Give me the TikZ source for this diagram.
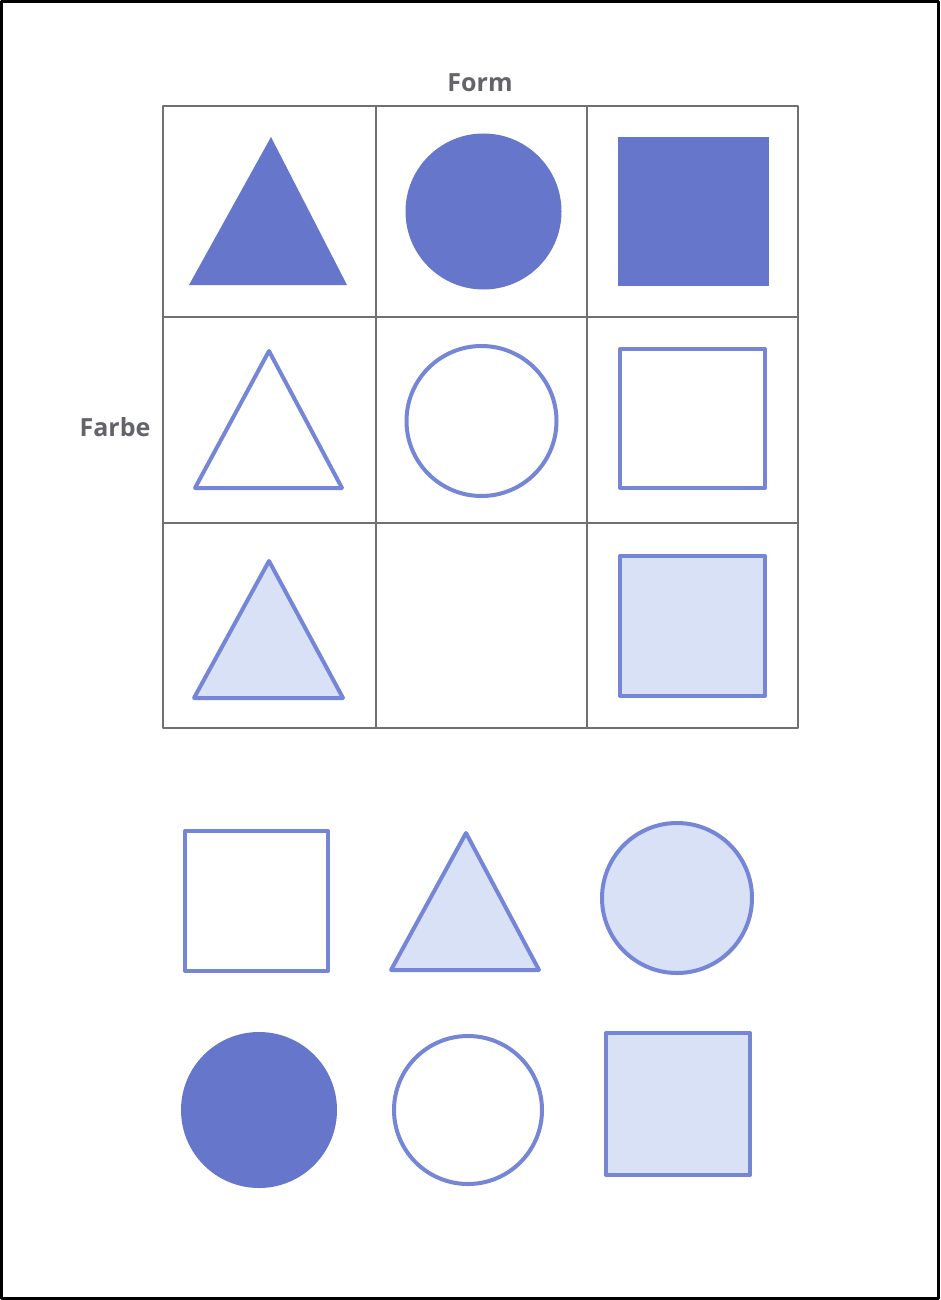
\documentclass[tikz,border=0pt]{standalone}
\usepackage{fontspec}
\setmainfont{Open Sans}
\usepackage{tikz}
\definecolor{shapeblue}{HTML}{6676CA}
\definecolor{lineblue}{HTML}{7586D6}
\definecolor{paleblue}{HTML}{D8E1F6}
\definecolor{gridgray}{HTML}{707070}
\definecolor{labelgray}{HTML}{62636B}

\begin{document}
\begin{tikzpicture}[x=1pt,y=-1pt,line join=round,
  full/.style={fill=shapeblue},
  hollow/.style={draw=lineblue,line width=4pt,fill=white},
  pale/.style={draw=lineblue,line width=4pt,fill=paleblue},
  axislabel/.style={font=\fontsize{25}{30}\selectfont\bfseries,text=labelgray,inner sep=0pt,anchor=base}]
  \fill[white] (0,0) rectangle (940,1300);
  \draw[line width=3pt] (1.5,1.5) rectangle (938.5,1298.5);
  % Raster 3x3
  \draw[gridgray,line width=2.5pt] (163,106) rectangle (798,728);
  \draw[gridgray,line width=2pt] (376,106) -- (376,728) (587,106) -- (587,728)
    (163,317) -- (798,317) (163,523) -- (798,523);
  \node[axislabel] (form) at (480,92) {Form};
  \node[axislabel] (farbe) at (115,436) {Farbe};
  % Zeile 1: voll
  \fill[full] (271,137) -- (347,285) -- (189,285) -- cycle;
  \fill[full] (483.5,211.5) circle[radius=78pt];
  \fill[full] (618,137) rectangle (769,286);
  % Zeile 2: leer
  \draw[hollow] (269,351) -- (342,488) -- (195,488) -- cycle;
  \draw[hollow] (481.5,421) circle[radius=75pt];
  \draw[hollow] (620,349) rectangle (765,488);
  % Zeile 3: hell, Mitte fehlt
  \draw[pale] (269,561) -- (343,698) -- (194,698) -- cycle;
  \draw[pale] (620,556) rectangle (765,696);
  % Auswahl
  \draw[hollow] (185,831) rectangle (328,971);
  \draw[pale] (466,833) -- (539,970) -- (391,970) -- cycle;
  \draw[pale] (677,898) circle[radius=75pt];
  \fill[full] (259,1110) circle[radius=78pt];
  \draw[hollow] (468,1110) circle[radius=74pt];
  \draw[pale] (606,1033) rectangle (750,1175);
\end{tikzpicture}
\end{document}
